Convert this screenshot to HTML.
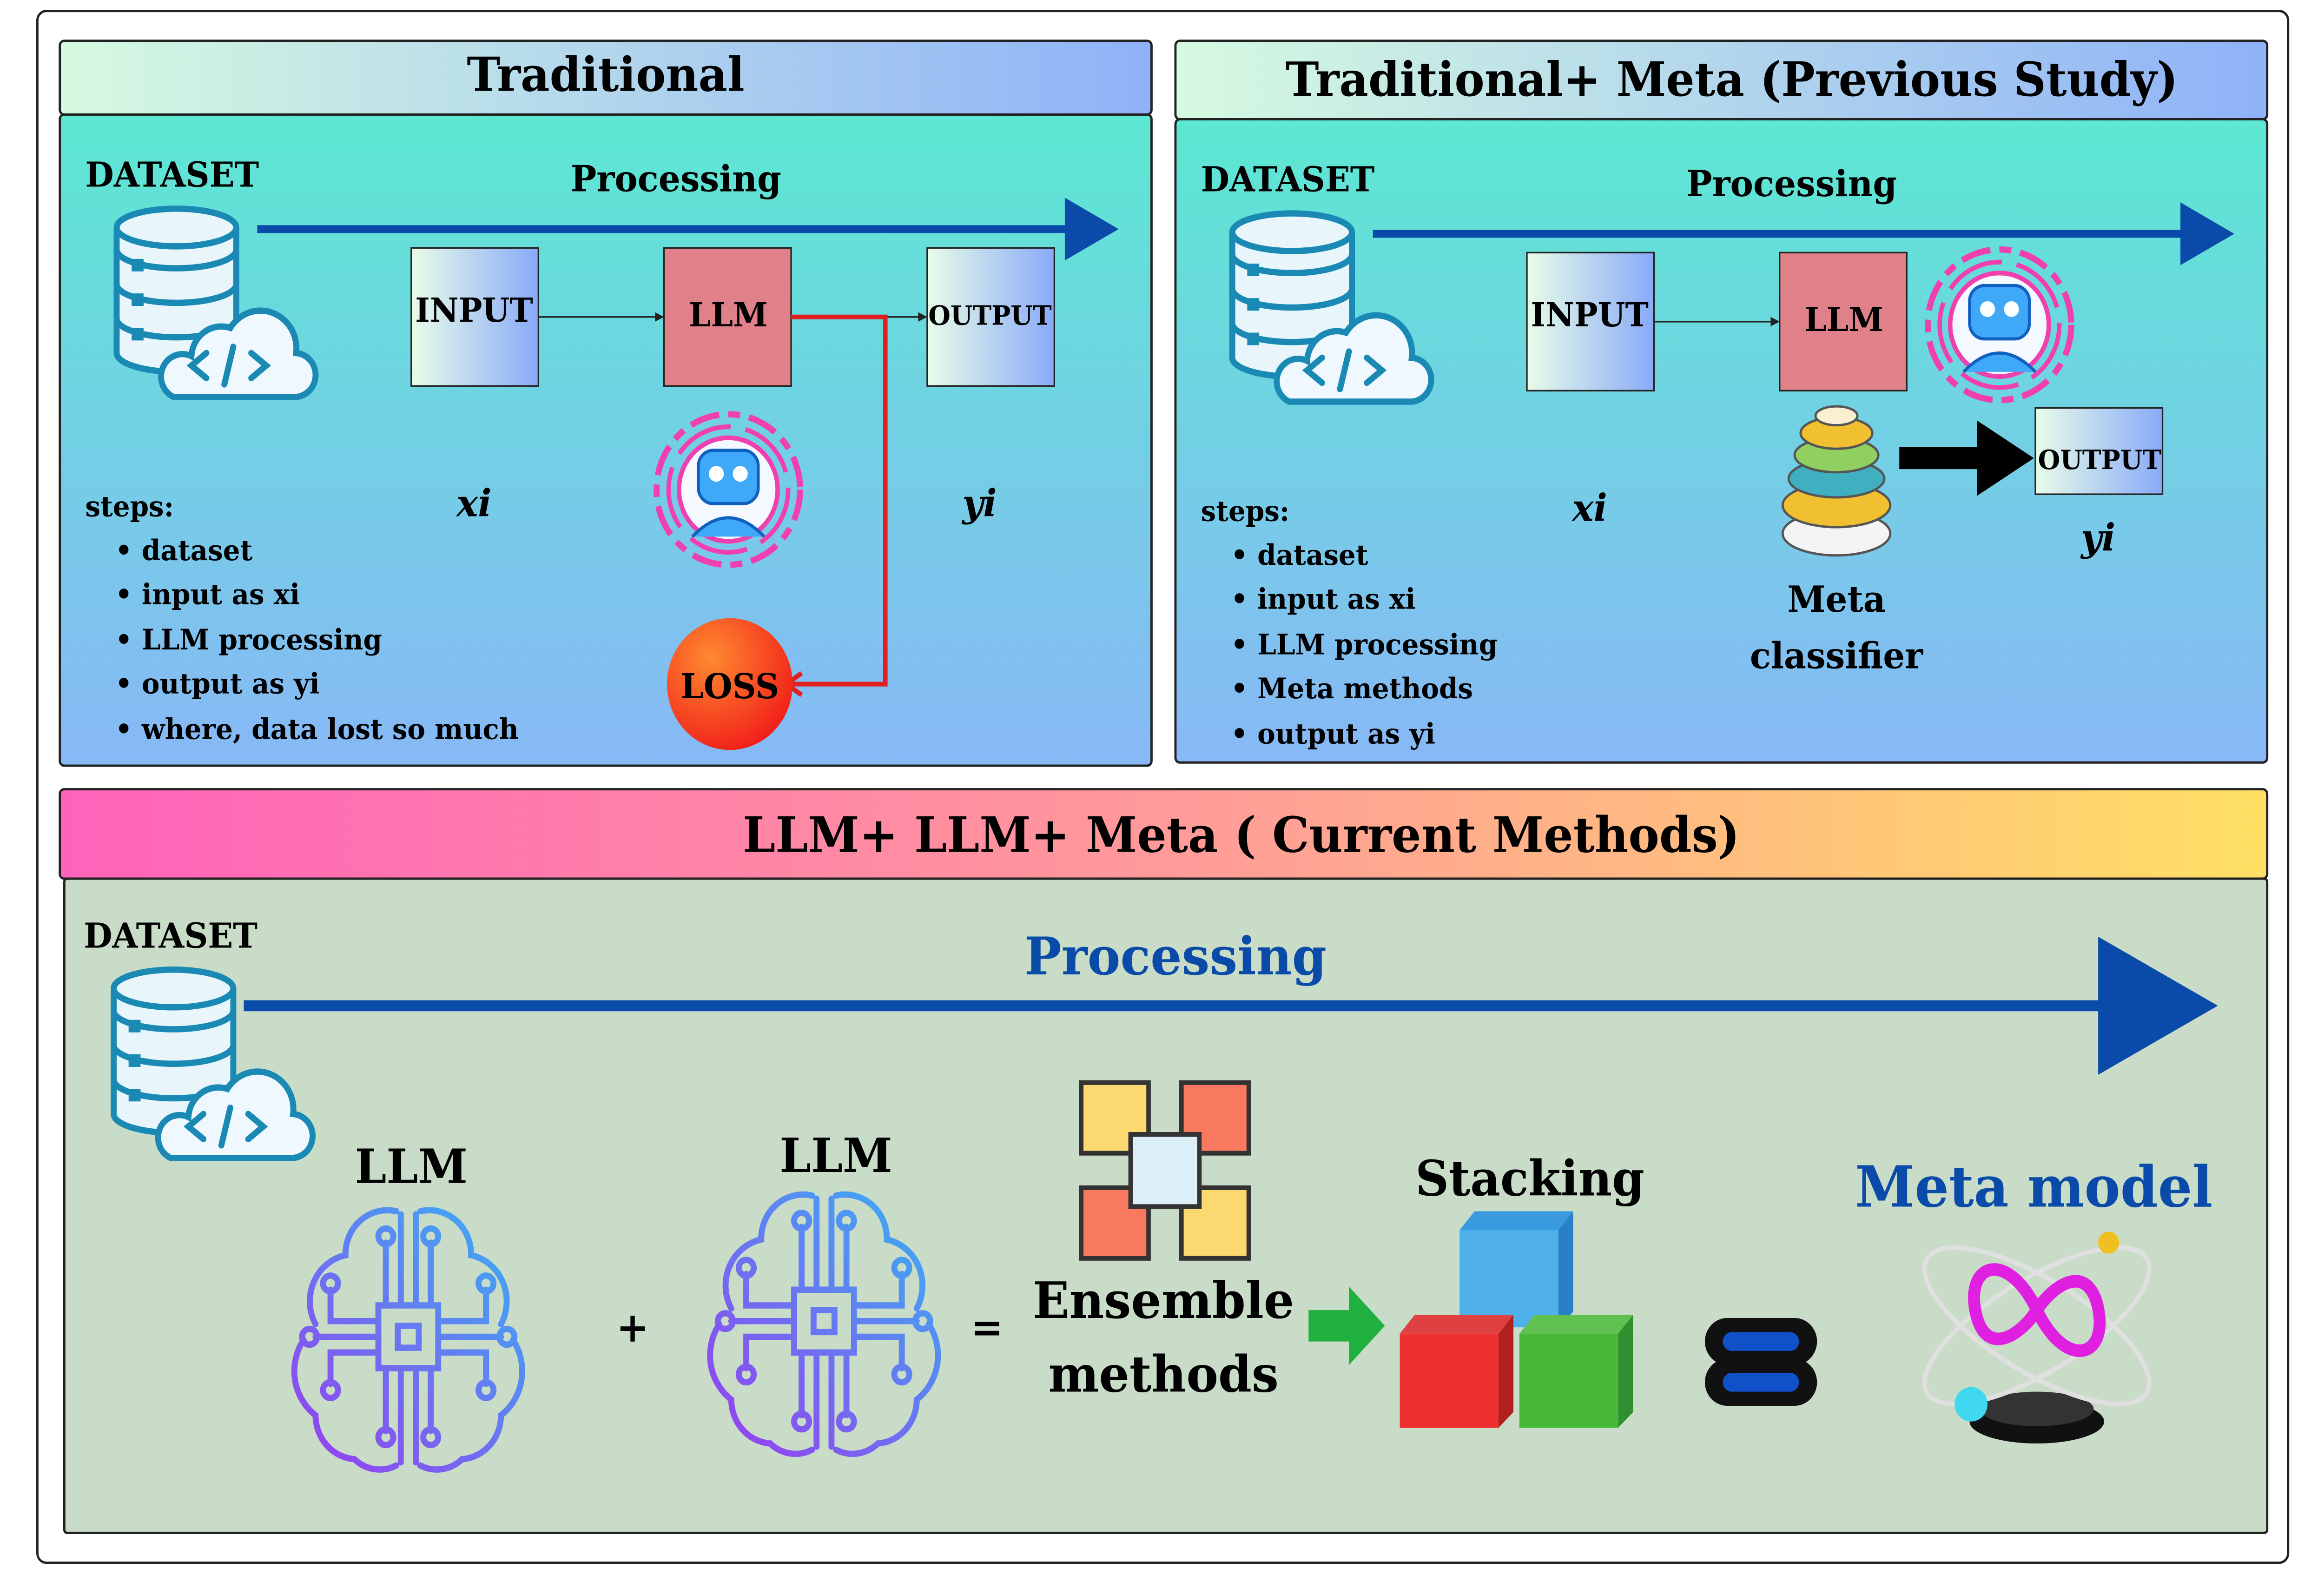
<!DOCTYPE html>
<html><head><meta charset="utf-8"><style>
html,body{margin:0;padding:0;background:#fff;width:100%;height:100%;overflow:hidden;}
svg{display:block;position:fixed;left:0;top:0;width:100vw;height:100vh;}
text{font-family:"DejaVu Serif","Liberation Serif",serif;font-weight:bold;}
</style></head><body>
<svg viewBox="0 0 1554 1000" preserveAspectRatio="none" xmlns="http://www.w3.org/2000/svg">
<defs>
<linearGradient id="hdr" x1="0" y1="0" x2="1" y2="0"><stop offset="0" stop-color="#d6fae0"/><stop offset="1" stop-color="#8fb2f8"/></linearGradient>
<linearGradient id="body" x1="0" y1="0" x2="0" y2="1"><stop offset="0" stop-color="#5ce8d2"/><stop offset="1" stop-color="#88b8f6"/></linearGradient>
<linearGradient id="hdr2" x1="0" y1="0" x2="1" y2="0"><stop offset="0" stop-color="#ff62ba"/><stop offset="0.5" stop-color="#ff9a9a"/><stop offset="1" stop-color="#ffe064"/></linearGradient>
<linearGradient id="box" x1="0" y1="0" x2="1" y2="0"><stop offset="0" stop-color="#e8fce8"/><stop offset="1" stop-color="#88aaf8"/></linearGradient>
<linearGradient id="brain" gradientUnits="userSpaceOnUse" x1="-80" y1="80" x2="80" y2="-80"><stop offset="0" stop-color="#9a3cf0"/><stop offset="1" stop-color="#36b4f4"/></linearGradient>
<radialGradient id="loss" cx="0.35" cy="0.3" r="0.8"><stop offset="0" stop-color="#ff8a30"/><stop offset="1" stop-color="#f01818"/></radialGradient>
<g id="db">
 <g fill="#e8f6fc" stroke="#1a8ab4" stroke-width="4">
  <path d="M0,70 v22 a40,12 0 0 0 80,0 v-22"/>
  <path d="M0,48 v22 a40,12 0 0 0 80,0 v-22"/>
  <path d="M0,26 v22 a40,12 0 0 0 80,0 v-22"/>
  <path d="M0,12 v14 a40,12 0 0 0 80,0 v-14"/>
  <ellipse cx="40" cy="12" rx="40" ry="12"/>
 </g>
 <g fill="#1a8ab4"><rect x="10" y="32" width="8" height="8"/><rect x="10" y="54" width="8" height="8"/><rect x="10" y="76" width="8" height="8"/></g>
 <path d="M38,120 h80 a14,14 0 0 0 2,-28 a24,24 0 0 0 -44,-16 a20,20 0 0 0 -26,18 a13,13 0 0 0 -12,26z" fill="#eef8fe" stroke="#1a8ab4" stroke-width="4"/>
 <path d="M60,92 l-10,8 10,8 M90,92 l10,8 -10,8 M78,88 l-6,24" fill="none" stroke="#1a8ab4" stroke-width="4" stroke-linecap="round"/>
</g>
<g id="brainI" fill="none" stroke="url(#brain)" stroke-width="4" stroke-linecap="round">
 <path d="M-8,-80 A28,28 0 0 0 -42,-52 A30,30 0 0 0 -62,-8 M-70,2 A35,35 0 0 0 -62,50 A28,28 0 0 0 -36,78 A25,25 0 0 0 -8,82"/>
 <path d="M8,-80 A28,28 0 0 1 42,-52 A30,30 0 0 1 62,-8 M70,2 A35,35 0 0 1 62,50 A28,28 0 0 1 36,78 A25,25 0 0 1 8,82"/>
 <rect x="-20" y="-20" width="40" height="40"/><rect x="-7" y="-7" width="14" height="14"/>
 <path d="M-20,0 h-42 M20,0 h42 M-20,-10 h-32 v-20 M20,-10 h32 v-20 M-20,10 h-32 v20 M20,10 h32 v20 M-5,-20 v-58 M5,-20 v-58 M-5,20 v60 M5,20 v60 M-15,-20 v-40 M15,-20 v-40 M-15,20 v40 M15,20 v40"/>
 <circle cx="-66" cy="0" r="5"/><circle cx="66" cy="0" r="5"/><circle cx="-52" cy="-34" r="5"/><circle cx="52" cy="-34" r="5"/><circle cx="-52" cy="34" r="5"/><circle cx="52" cy="34" r="5"/><circle cx="-15" cy="-64" r="5"/><circle cx="15" cy="-64" r="5"/><circle cx="-15" cy="64" r="5"/><circle cx="15" cy="64" r="5"/>
</g>
<g id="bot">
 <circle r="48" fill="none" stroke="#f040b0" stroke-width="4" stroke-dasharray="20 6 8 6"/>
 <circle r="40" fill="none" stroke="#f040b0" stroke-width="3" stroke-dasharray="40 10"/>
 <circle r="33" fill="#f4f8ff" stroke="#f040b0" stroke-width="3"/>
 <rect x="-20" y="-25" width="40" height="34" rx="10" fill="#40a8f8" stroke="#1060c0" stroke-width="2"/>
 <circle cx="-8" cy="-10" r="5" fill="#fff"/><circle cx="8" cy="-10" r="5" fill="#fff"/>
 <path d="M-24,30 q24,-24 48,0" fill="#40a8f8" stroke="#1060c0" stroke-width="2"/>
</g>
</defs>
<rect width="1554" height="1000" fill="#fff"/>
<rect x="25" y="7" width="1505" height="989" rx="6" fill="none" stroke="#222" stroke-width="1.5"/>

<!-- Left panel -->
<rect x="40" y="73" width="730" height="415" rx="3" fill="url(#body)" stroke="#222" stroke-width="1.5"/>
<rect x="40" y="26" width="730" height="47" rx="3" fill="url(#hdr)" stroke="#222" stroke-width="1.5"/>
<text x="405" y="58" font-size="30" text-anchor="middle">Traditional</text>
<text x="57" y="119" font-size="22">DATASET</text>
<text x="452" y="122" font-size="23" text-anchor="middle">Processing</text>
<line x1="172" y1="146" x2="718" y2="146" stroke="#0a4aa8" stroke-width="5"/>
<polygon points="712,126 748,146 712,166" fill="#0a4aa8"/>
<use href="#db" x="78" y="133"/>
<rect x="275" y="158" width="85" height="88" fill="url(#box)" stroke="#222"/>
<text x="317" y="205" font-size="21" text-anchor="middle">INPUT</text>
<rect x="444" y="158" width="85" height="88" fill="#e08088" stroke="#222"/>
<text x="487" y="208" font-size="21" text-anchor="middle">LLM</text>
<rect x="620" y="158" width="85" height="88" fill="url(#box)" stroke="#222"/>
<text x="662" y="207" font-size="17" text-anchor="middle">OUTPUT</text>
<line x1="360" y1="202" x2="440" y2="202" stroke="#222"/><polygon points="444,202 438,199 438,205" fill="#222"/>
<line x1="592" y1="202" x2="616" y2="202" stroke="#222"/><polygon points="620,202 614,199 614,205" fill="#222"/>
<path d="M529,202 H592 V436 H530" fill="none" stroke="#e02020" stroke-width="3"/>
<path d="M536,429 l-10,7 10,7" fill="none" stroke="#e02020" stroke-width="3"/>
<circle cx="488" cy="436" r="42" fill="url(#loss)"/>
<text x="488" y="445" font-size="22" text-anchor="middle">LOSS</text>
<use href="#bot" x="487" y="312"/>
<text x="317" y="329" font-size="24" font-style="italic" text-anchor="middle">xi</text>
<text x="655" y="329" font-size="24" font-style="italic" text-anchor="middle">yi</text>
<g font-size="18"><text x="57" y="329">steps:</text>
<text x="77" y="357">• dataset</text><text x="77" y="385">• input as xi</text><text x="77" y="414">• LLM processing</text><text x="77" y="442">• output as yi</text><text x="77" y="471">• where, data lost so much</text></g>

<!-- Right panel -->
<rect x="786" y="76" width="730" height="410" rx="3" fill="url(#body)" stroke="#222" stroke-width="1.5"/>
<rect x="786" y="26" width="730" height="50" rx="3" fill="url(#hdr)" stroke="#222" stroke-width="1.5"/>
<text x="1158" y="61" font-size="30" text-anchor="middle">Traditional+ Meta (Previous Study)</text>
<text x="803" y="122" font-size="22">DATASET</text>
<text x="1198" y="125" font-size="23" text-anchor="middle">Processing</text>
<line x1="918" y1="149" x2="1464" y2="149" stroke="#0a4aa8" stroke-width="5"/>
<polygon points="1458,129 1494,149 1458,169" fill="#0a4aa8"/>
<use href="#db" x="824" y="136"/>
<rect x="1021" y="161" width="85" height="88" fill="url(#box)" stroke="#222"/>
<text x="1063" y="208" font-size="21" text-anchor="middle">INPUT</text>
<rect x="1190" y="161" width="85" height="88" fill="#e08088" stroke="#222"/>
<text x="1233" y="211" font-size="21" text-anchor="middle">LLM</text>
<line x1="1106" y1="205" x2="1186" y2="205" stroke="#222"/><polygon points="1190,205 1184,202 1184,208" fill="#222"/>
<use href="#bot" x="1337" y="207"/>
<g stroke="#555" stroke-width="1.5">
<ellipse cx="1228" cy="340" rx="36" ry="14" fill="#f4f4f4"/>
<ellipse cx="1228" cy="322" rx="36" ry="14" fill="#f0c030"/>
<ellipse cx="1228" cy="305" rx="32" ry="12" fill="#40b0c0"/>
<ellipse cx="1228" cy="290" rx="28" ry="11" fill="#90d060"/>
<ellipse cx="1228" cy="276" rx="24" ry="10" fill="#f0c030"/>
<ellipse cx="1228" cy="265" rx="14" ry="6" fill="#f8f0d0"/></g>
<rect x="1270" y="285" width="58" height="14" fill="#000"/>
<polygon points="1322,268 1360,292 1322,316" fill="#000"/>
<rect x="1361" y="260" width="85" height="55" fill="url(#box)" stroke="#222"/>
<text x="1404" y="299" font-size="17" text-anchor="middle">OUTPUT</text>
<text x="1063" y="332" font-size="24" font-style="italic" text-anchor="middle">xi</text>
<text x="1403" y="351" font-size="24" font-style="italic" text-anchor="middle">yi</text>
<text x="1228" y="390" font-size="23" text-anchor="middle">Meta</text>
<text x="1228" y="426" font-size="23" text-anchor="middle">classifier</text>
<g font-size="18"><text x="803" y="332">steps:</text>
<text x="823" y="360">• dataset</text><text x="823" y="388">• input as xi</text><text x="823" y="417">• LLM processing</text><text x="823" y="445">• Meta methods</text><text x="823" y="474">• output as yi</text></g>

<!-- Bottom -->
<rect x="43" y="560" width="1473" height="417" rx="2" fill="#c8dcc8" stroke="#222" stroke-width="1.5"/>
<rect x="40" y="503" width="1476" height="57" rx="3" fill="url(#hdr2)" stroke="#222" stroke-width="1.5"/>
<text x="830" y="543" font-size="31" text-anchor="middle">LLM+ LLM+ Meta ( Current Methods)</text>
<text x="56" y="604" font-size="22">DATASET</text>
<text x="786" y="621" font-size="33" fill="#0a4aa8" text-anchor="middle">Processing</text>
<line x1="163" y1="641" x2="1410" y2="641" stroke="#0a4aa8" stroke-width="7"/>
<polygon points="1403,597 1483,641 1403,685" fill="#0a4aa8"/>
<use href="#db" x="76" y="618"/>
<text x="275" y="754" font-size="30" text-anchor="middle">LLM</text>
<use href="#brainI" x="273" y="852"/>
<text x="423" y="855" font-size="26" text-anchor="middle">+</text>
<text x="559" y="747" font-size="30" text-anchor="middle">LLM</text>
<use href="#brainI" x="551" y="842"/>
<text x="660" y="855" font-size="26" text-anchor="middle">=</text>
<g stroke="#333" stroke-width="3">
<rect x="723" y="690" width="45" height="45" fill="#fcd870"/>
<rect x="790" y="690" width="45" height="45" fill="#f87860"/>
<rect x="723" y="757" width="45" height="45" fill="#f87860"/>
<rect x="790" y="757" width="45" height="45" fill="#fcd870"/>
<rect x="756" y="723" width="46" height="46" fill="#dceef8"/></g>
<text x="778" y="840" font-size="32" text-anchor="middle">Ensemble</text>
<text x="778" y="887" font-size="32" text-anchor="middle">methods</text>
<polygon points="875,835 902,835 902,820 926,845 902,870 902,855 875,855" fill="#20b040"/>
<text x="1023" y="762" font-size="31" text-anchor="middle">Stacking</text>
<polygon points="976,784 986,772 1052,772 1042,784" fill="#3a9ae0"/>
<polygon points="1042,784 1052,772 1052,836 1042,846" fill="#2a80c8"/>
<rect x="976" y="784" width="66" height="62" fill="#50b0ec"/>
<polygon points="936,850 946,838 1012,838 1002,850" fill="#e04040"/>
<polygon points="1002,850 1012,838 1012,900 1002,910" fill="#b02020"/>
<rect x="936" y="850" width="66" height="60" fill="#ee3030"/>
<polygon points="1016,850 1026,838 1092,838 1082,850" fill="#60c050"/>
<polygon points="1082,850 1092,838 1092,900 1082,910" fill="#309030"/>
<rect x="1016" y="850" width="66" height="60" fill="#48b838"/>
<rect x="1140" y="840" width="75" height="30" rx="15" fill="#111"/>
<rect x="1140" y="866" width="75" height="30" rx="15" fill="#111"/>
<rect x="1152" y="849" width="51" height="12" rx="6" fill="#1050c8"/>
<rect x="1152" y="875" width="51" height="12" rx="6" fill="#1050c8"/>
<text x="1360" y="769" font-size="36" fill="#0a4aa8" text-anchor="middle">Meta model</text>
<ellipse cx="1362" cy="906" rx="45" ry="14" fill="#111"/>
<ellipse cx="1362" cy="898" rx="38" ry="11" fill="#333"/>
<g fill="none" stroke="#e0e0e0" stroke-width="3">
<ellipse cx="1362" cy="845" rx="85" ry="30" transform="rotate(-30 1362 845)"/>
<ellipse cx="1362" cy="845" rx="85" ry="30" transform="rotate(30 1362 845)"/></g>
<path d="M1362,835 c-20,-40 -50,-30 -40,5 c8,25 30,10 40,-5 c10,-15 32,-30 40,-5 c10,35 -20,45 -40,5z" fill="none" stroke="#e020e0" stroke-width="8"/>
<circle cx="1318" cy="895" r="11" fill="#40d8f0"/>
<circle cx="1410" cy="792" r="7" fill="#f0c020"/>
</svg>
</body></html>
